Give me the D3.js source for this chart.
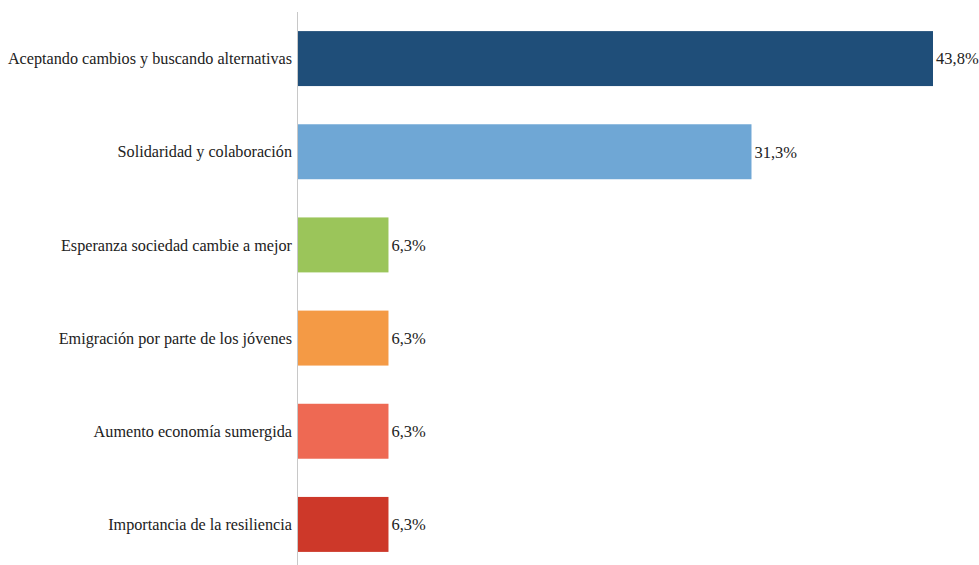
<!DOCTYPE html>
<html>
<head>
<meta charset="utf-8">
<script src="https://cdn.jsdelivr.net/npm/d3@7"></script>
<style>
  html, body { margin: 0; padding: 0; background: #fff; }
  svg { display: block; }
  text { font-family: "Liberation Serif", "DejaVu Serif", serif; fill: #222; }
</style>
</head>
<body>
<script>
const categories = [
  "Aceptando cambios y buscando alternativas",
  "Solidaridad y colaboración",
  "Esperanza sociedad cambie a mejor",
  "Emigración por parte de los jóvenes",
  "Aumento economía sumergida",
  "Importancia de la resiliencia"
];
const values = [43.8, 31.3, 6.3, 6.3, 6.3, 6.3];
const valueLabels = ["43,8%", "31,3%", "6,3%", "6,3%", "6,3%", "6,3%"];
const colors = ["#1f4e79", "#6fa7d5", "#9bc55a", "#f49a45", "#ee6953", "#cd3829"];

const W = 979, H = 565;
const x0 = 297;
const svg = d3.select("body").append("svg").attr("width", W).attr("height", H);

const x = d3.scaleLinear().domain([0, 43.8]).range([x0, 933]);
const y = d3.scaleBand().domain(categories).range([12, 571]).paddingInner(0.41).paddingOuter(0.205);

const data = categories.map((c, i) => ({ c, v: values[i], l: valueLabels[i], col: colors[i] }));

svg.selectAll("rect.bar").data(data).enter().append("rect")
  .attr("class", "bar")
  .attr("x", x(0))
  .attr("y", d => y(d.c))
  .attr("width", d => x(d.v) - x(0))
  .attr("height", y.bandwidth())
  .attr("fill", d => d.col);

// axis line
svg.append("line")
  .attr("x1", x0 + 0.5).attr("x2", x0 + 0.5)
  .attr("y1", 12).attr("y2", H)
  .attr("stroke", "#c8c8c8").attr("stroke-width", 1);

svg.selectAll("text.cat").data(data).enter().append("text")
  .attr("class", "cat")
  .attr("x", x0 - 5)
  .attr("y", d => y(d.c) + y.bandwidth() / 2)
  .attr("dy", "0.35em")
  .attr("text-anchor", "end")
  .style("font-size", "16.2px")
  .text(d => d.c);

svg.selectAll("text.val").data(data).enter().append("text")
  .attr("class", "val")
  .attr("x", d => x(d.v) + 3)
  .attr("y", d => y(d.c) + y.bandwidth() / 2)
  .attr("dy", "0.35em")
  .attr("text-anchor", "start")
  .style("font-size", "16.5px")
  .text(d => d.l);
</script>
</body>
</html>
